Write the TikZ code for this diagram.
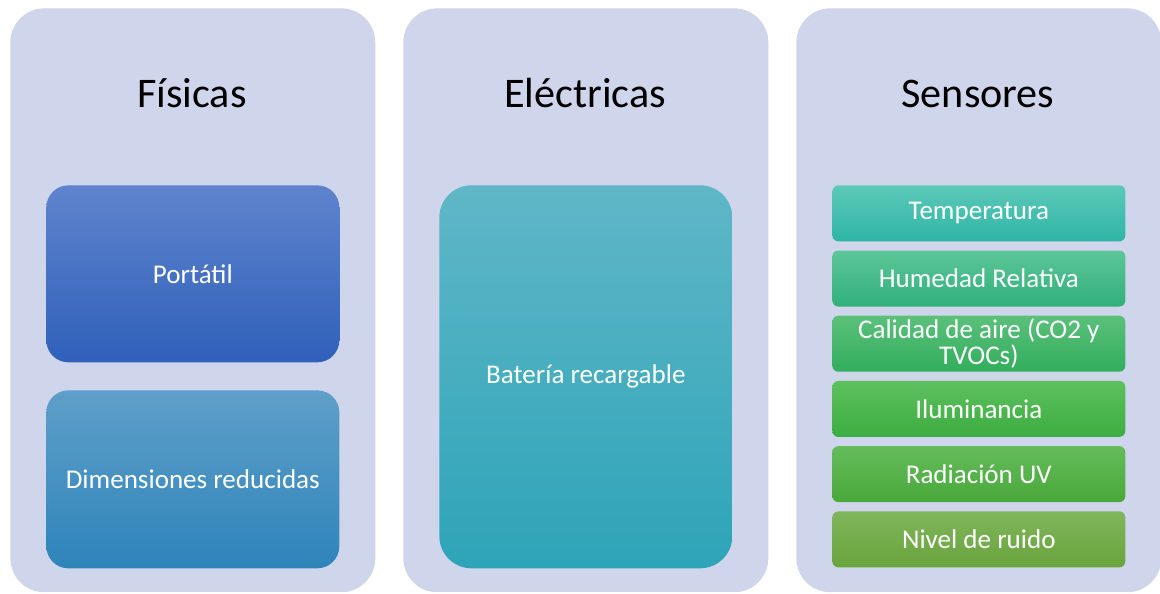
\documentclass[tikz,border=0pt]{standalone}
\usepackage{fontspec}
\setmainfont{Carlito}
\usetikzlibrary{positioning}

\definecolor{panelbg}{HTML}{CFD5EA}
\definecolor{portTop}{HTML}{5F84CD}
\definecolor{portBot}{HTML}{2F60BA}
\definecolor{dimTop}{HTML}{5F9FC9}
\definecolor{dimBot}{HTML}{2E84BA}
\definecolor{batTop}{HTML}{5FB7C7}
\definecolor{batBot}{HTML}{2EA4B8}
\definecolor{senTopA}{HTML}{5CC9B9}
\definecolor{senBotA}{HTML}{2EB5A5}
\definecolor{senTopB}{HTML}{5DC698}
\definecolor{senBotB}{HTML}{30B07A}
\definecolor{senTopC}{HTML}{5BC07B}
\definecolor{senBotC}{HTML}{31AE5C}
\definecolor{senTopD}{HTML}{5DC05E}
\definecolor{senBotD}{HTML}{3CAD40}
\definecolor{senTopE}{HTML}{64BC5A}
\definecolor{senBotE}{HTML}{48A83A}
\definecolor{senTopF}{HTML}{80B65C}
\definecolor{senBotF}{HTML}{68A43C}

\tikzset{
  panel/.style={fill=panelbg, rounded corners=0.68cm, inner sep=0pt,
    minimum width=7.3cm, minimum height=11.68cm, anchor=north west},
  paneltitle/.style={anchor=base, font=\fontsize{24}{28}\selectfont},
  itembox/.style={rounded corners=0.44cm, inner sep=0pt, anchor=north west,
    minimum width=5.86cm, text=white, align=center,
    font=\fontsize{15.4}{18}\selectfont},
  sensorbox/.style={rounded corners=0.12cm, inner sep=0pt, anchor=north west,
    minimum width=5.86cm, minimum height=1.12cm, text=white, align=center,
    font=\fontsize{15.4}{15}\selectfont},
}

\begin{document}
\begin{tikzpicture}[x=0.02cm, y=-0.02cm]
      \useasboundingbox (0, 0) rectangle (1160, 594);

      % columns
      \node [panel] (fis) at (10, 8) {};
      \node [panel] (ele) at (403, 8) {};
      \node [panel] (sen) at (796, 8) {};
      \node [paneltitle] (fis-title) at (192, 108) {Físicas};
      \node [paneltitle] (ele-title) at (585, 108) {Eléctricas};
      \node [paneltitle] (sen-title) at (978, 108) {Sensores};

      % Fisicas
      \node [itembox, minimum height=3.54cm, top color=portTop, bottom color=portBot]
        (portatil) at (46, 185) {Portátil};
      \node [itembox, minimum height=3.56cm, top color=dimTop, bottom color=dimBot]
        (dimensiones) at (46, 390) {Dimensiones reducidas};

      % Electricas
      \node [itembox, rounded corners=0.64cm, minimum height=7.66cm,
        top color=batTop, bottom color=batBot]
        (bateria) at (439, 185) {Batería recargable};

      % Sensores
      \foreach \i/\c/\txt in {1/A/Temperatura, 2/B/Humedad Relativa,
        3/C/{Calidad de aire (CO2 y\\TVOCs)}, 4/D/Iluminancia,
        5/E/Radiación UV, 6/F/Nivel de ruido}
      {
        \node [sensorbox, top color=senTop\c, bottom color=senBot\c]
          (s\i) at (832, 185 + 65.2 * \i - 65.2) {\txt};
      }
    \end{tikzpicture}
\end{document}
